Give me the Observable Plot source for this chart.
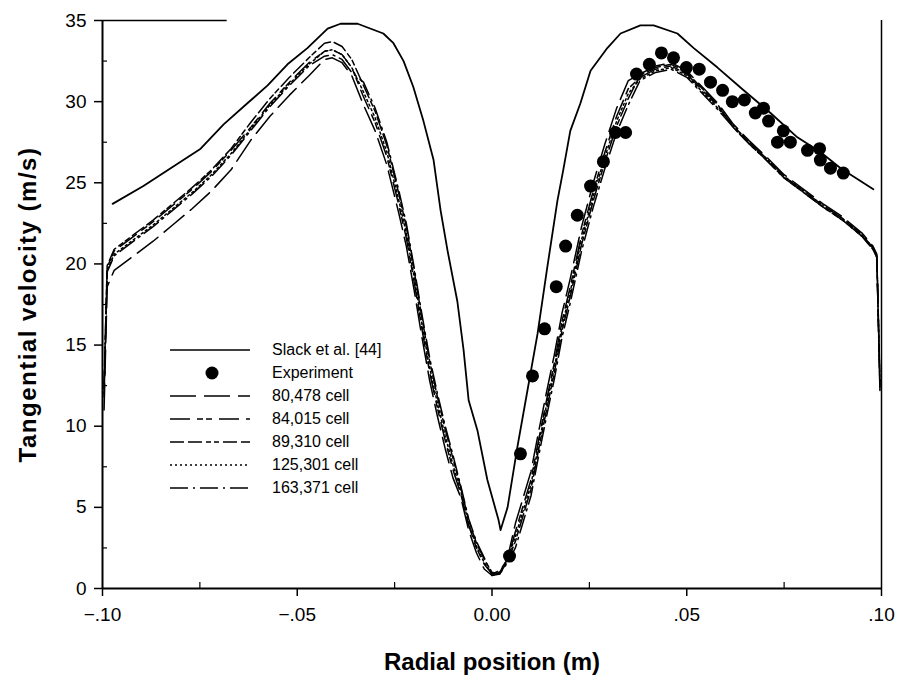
<!DOCTYPE html>
<html><head><meta charset="utf-8">
<script src="https://cdn.jsdelivr.net/npm/d3@7"></script>
<script src="https://cdn.jsdelivr.net/npm/@observablehq/plot@0.6"></script>
<style>
body{margin:0;background:#fff;}
#wrap{position:relative;width:901px;height:682px;font-family:Arial,"Liberation Sans",sans-serif;color:#000;}
#legend{position:absolute;left:170px;top:338px;}
.row{display:flex;align-items:center;height:23px;font-size:16px;}
.row svg{width:82px;height:14px;margin-right:20px;flex:none;}
</style></head>
<body><div id="wrap"><div id="chart"></div><div id="legend"></div></div>
<script>
// Slack et al. [44]
const slackX = [-0.0974,-0.0895,-0.0825,-0.0748,-0.0689,-0.0628,-0.0576,-0.0525,-0.0474,-0.0422,-0.0389,-0.0345,-0.0279,-0.0253,-0.0227,-0.0202,-0.0176,-0.0150,-0.0132,-0.0114,-0.0089,-0.0073,-0.0060,-0.0037,-0.0012,0.0017,0.0022,0.0040,0.0065,0.0091,0.0117,0.0142,0.0168,0.0183,0.0201,0.0227,0.0253,0.0296,0.0330,0.0381,0.0415,0.0476,0.0518,0.0579,0.0646,0.0715,0.0784,0.0843,0.0895,0.0979];
const slackY = [23.7,24.8,25.9,27.1,28.6,29.9,31.0,32.3,33.3,34.5,34.8,34.8,34.2,33.6,32.5,30.9,28.8,26.4,23.3,20.8,17.7,14.7,11.6,9.7,6.7,4.2,3.6,5.0,8.7,12.2,15.7,19.8,23.9,25.8,28.2,29.9,31.9,33.3,34.2,34.7,34.7,34.2,33.3,32.1,30.7,29.3,27.8,26.9,25.9,24.6];

// Experiment
const expX = [0.0045,0.0073,0.0104,0.0135,0.0165,0.0189,0.0219,0.0253,0.0286,0.0317,0.0343,0.0371,0.0404,0.0435,0.0466,0.0499,0.0532,0.0561,0.0592,0.0617,0.0648,0.0676,0.0697,0.0710,0.0733,0.0748,0.0766,0.0810,0.0841,0.0843,0.0869,0.0902];
const expY = [2.0,8.3,13.1,16.0,18.6,21.1,23.0,24.8,26.3,28.1,28.1,31.7,32.3,33.0,32.7,32.1,32.0,31.2,30.7,30.0,30.1,29.3,29.6,28.8,27.5,28.2,27.5,27.0,27.1,26.4,25.9,25.6];

// CFD grids share radial positions
const radialGrid = [-0.0996,-0.0988,-0.0970,-0.0920,-0.0870,-0.0820,-0.0770,-0.0720,-0.0670,-0.0620,-0.0570,-0.0520,-0.0470,-0.0430,-0.0410,-0.0385,-0.0360,-0.0330,-0.0300,-0.0270,-0.0240,-0.0220,-0.0200,-0.0180,-0.0160,-0.0140,-0.0120,-0.0100,-0.0080,-0.0060,-0.0040,-0.0020,0.0000,0.0020,0.0040,0.0060,0.0080,0.0100,0.0120,0.0140,0.0160,0.0180,0.0200,0.0230,0.0260,0.0290,0.0320,0.0350,0.0380,0.0420,0.0460,0.0500,0.0540,0.0580,0.0620,0.0660,0.0700,0.0750,0.0800,0.0850,0.0900,0.0950,0.0978,0.0988,0.0996];
const cell80478 = [11.0,18.6,19.6,20.5,21.4,22.4,23.4,24.5,25.8,27.6,29.1,30.4,31.6,32.6,32.7,32.4,31.6,29.8,28.2,26.1,23.2,21.1,18.4,15.5,12.8,10.6,8.6,6.8,5.6,3.6,2.2,1.2,0.8,1.0,1.9,4.0,5.6,7.2,9.7,12.1,14.4,17.0,19.0,22.3,25.0,27.4,29.6,31.3,31.7,32.2,32.4,31.9,30.9,29.9,28.6,27.6,26.7,25.5,24.6,23.7,22.9,21.9,21.1,20.6,12.8];
const cell84015 = [12.3,19.8,20.8,21.7,22.6,23.6,24.6,25.7,27.0,28.4,29.9,31.2,32.4,33.1,33.2,32.9,32.1,30.3,28.7,26.6,23.7,21.6,18.9,16.0,13.3,11.1,9.1,7.3,5.8,3.9,2.5,1.5,0.9,1.1,1.8,3.5,5.1,6.7,9.2,11.6,13.9,16.5,18.5,21.8,24.5,26.9,29.1,30.8,31.5,32.0,32.2,31.7,30.7,29.7,28.5,27.5,26.6,25.4,24.5,23.6,22.8,21.8,21.0,20.5,12.4];
const cell89310 = [12.6,19.9,20.9,21.8,22.7,23.7,24.7,25.8,27.1,28.7,30.2,31.5,32.7,33.6,33.7,33.4,32.6,31.0,29.4,27.3,24.4,22.3,19.6,16.7,14.0,11.8,9.8,8.0,6.2,4.2,2.8,1.8,1.0,0.9,1.7,2.9,4.5,6.1,8.6,11.0,13.3,15.9,17.9,21.2,23.9,26.3,28.5,30.2,31.6,32.1,32.3,31.8,30.8,29.8,28.4,27.4,26.5,25.3,24.4,23.5,22.7,21.7,20.9,20.4,12.2];
const cell125301 = [12.0,19.6,20.6,21.5,22.4,23.4,24.4,25.5,26.8,28.3,29.8,31.1,32.3,33.1,33.2,32.9,32.1,30.6,29.0,26.9,24.0,21.9,19.2,16.3,13.6,11.4,9.4,7.6,6.0,4.0,2.6,1.6,0.9,1.0,1.8,3.2,4.8,6.4,8.9,11.3,13.6,16.2,18.2,21.5,24.2,26.6,28.8,30.5,31.4,31.9,32.1,31.6,30.6,29.6,28.5,27.5,26.6,25.4,24.5,23.6,22.8,21.8,21.0,20.5,12.6];
const cell163371 = [11.8,19.5,20.5,21.4,22.3,23.3,24.3,25.4,26.7,28.2,29.7,31.0,32.2,32.8,32.9,32.6,31.8,31.2,29.6,27.5,24.6,22.5,19.8,16.9,14.2,12.0,10.0,8.2,6.3,4.3,2.9,1.9,0.8,0.9,1.6,2.5,4.1,5.7,8.2,10.6,12.9,15.5,17.5,20.8,23.5,25.9,28.1,29.8,31.3,31.8,32.0,31.5,30.5,29.5,28.4,27.4,26.5,25.3,24.4,23.5,22.7,21.7,20.9,20.4,12.3];

const seriesNames = ["Slack et al. [44]","Experiment","80,478 cell","84,015 cell","89,310 cell","125,301 cell","163,371 cell"];
const xMajor = [-0.10,-0.05,0,0.05,0.10];
const xMinor = [-0.075,-0.025,0.025,0.075];
const yMajor = [0,5,10,15,20,25,30,35];
const yMinor = [2.5,7.5,12.5,17.5,22.5,27.5,32.5];
const xTitle = "Radial position (m)";
const yTitle = "Tangential velocity (m/s)";

const slack = slackX.map((x,i)=>({x, y: slackY[i]}));
const exp = expX.map((x,i)=>({x, y: expY[i]}));
const sims = [
  {name: seriesNames[2], vals: cell80478, dash: "26,8"},
  {name: seriesNames[3], vals: cell84015, dash: "20,7,6,3,6,7"},
  {name: seriesNames[4], vals: cell89310, dash: "14,4,14,4,5,3,5,4"},
  {name: seriesNames[5], vals: cell125301, dash: "2,3"},
  {name: seriesNames[6], vals: cell163371, dash: "18,5,2,5"}
];
const fmt = d => d === 0 ? "0.00" : d3.format(".2f")(d).replace("0.", ".");
const FONT = "Arial, 'Liberation Sans', sans-serif";

const chart = Plot.plot({
  width: 901, height: 682,
  marginLeft: 102, marginRight: 20, marginTop: 20, marginBottom: 94,
  style: {fontFamily: FONT, fontSize: "19px", color: "#000", background: "#fff"},
  x: {domain: [-0.1, 0.1]},
  y: {domain: [0, 35]},
  marks: [
    ...sims.map(s => Plot.line(s.vals.map((y,i)=>({x: radialGrid[i], y})), {x: "x", y: "y", stroke: "#000", strokeWidth: 1.5, strokeDasharray: s.dash})),
    Plot.line(slack, {x: "x", y: "y", stroke: "#000", strokeWidth: 1.8}),
    Plot.dot(exp, {x: "x", y: "y", r: 6.5, fill: "#000", stroke: "none"}),
    Plot.ruleX([-0.1], {stroke: "#000", strokeWidth: 2}),
    Plot.ruleX([0.1], {stroke: "#000", strokeWidth: 1.5}),
    Plot.ruleY([0], {stroke: "#000", strokeWidth: 2}),
    Plot.ruleY([35], {x1: -0.1, x2: -0.068, stroke: "#000", strokeWidth: 1.5}),
    Plot.axisX({ticks: xMajor, tickSize: 8, tickPadding: 11, tickFormat: fmt, label: null, fontSize: 19, strokeWidth: 1.5}),
    Plot.axisX({ticks: xMinor, tickSize: 6, dy: -6, tickFormat: () => "", label: null, strokeWidth: 1.2}),
    Plot.axisY({ticks: yMajor, tickSize: 8, tickPadding: 8, tickFormat: d => String(d), label: null, fontSize: 19, strokeWidth: 1.5}),
    Plot.axisY({ticks: yMinor, tickSize: 5, dx: 5, tickFormat: () => "", label: null, strokeWidth: 1.2}),
    Plot.text([xTitle], {frameAnchor: "bottom", dy: 74, lineAnchor: "middle", textAnchor: "middle", fontSize: 24, fontWeight: "bold", fill: "#000"}),
    Plot.text([yTitle], {frameAnchor: "left", dx: -74, rotate: -90, lineAnchor: "middle", textAnchor: "middle", fontSize: 24, fontWeight: "bold", fill: "#000"})
  ]
});
document.getElementById("chart").appendChild(chart);
d3.select(chart).selectAll("text").filter(function(){ return this.textContent === yTitle; }).style("letter-spacing", "1.5px");

// legend
const legend = document.getElementById("legend");
const rows = [
  {name: seriesNames[0], type: "line", dash: null},
  {name: seriesNames[1], type: "dot"},
  ...sims.map(s => ({name: s.name, type: "line", dash: s.dash}))
];
rows.forEach(r => {
  const row = document.createElement("div");
  row.className = "row";
  const ns = "http://www.w3.org/2000/svg";
  const svg = document.createElementNS(ns, "svg");
  svg.setAttribute("viewBox", "0 0 82 14");
  if (r.type === "dot") {
    const c = document.createElementNS(ns, "circle");
    c.setAttribute("cx", 42); c.setAttribute("cy", 7); c.setAttribute("r", 6.5);
    c.setAttribute("fill", "#000");
    svg.appendChild(c);
  } else {
    const l = document.createElementNS(ns, "line");
    l.setAttribute("x1", 0); l.setAttribute("x2", 80); l.setAttribute("y1", 7); l.setAttribute("y2", 7);
    l.setAttribute("stroke", "#000"); l.setAttribute("stroke-width", 1.5);
    if (r.dash) l.setAttribute("stroke-dasharray", r.dash);
    svg.appendChild(l);
  }
  row.appendChild(svg);
  const t = document.createElement("span");
  t.textContent = r.name;
  row.appendChild(t);
  legend.appendChild(row);
});
</script></body></html>
